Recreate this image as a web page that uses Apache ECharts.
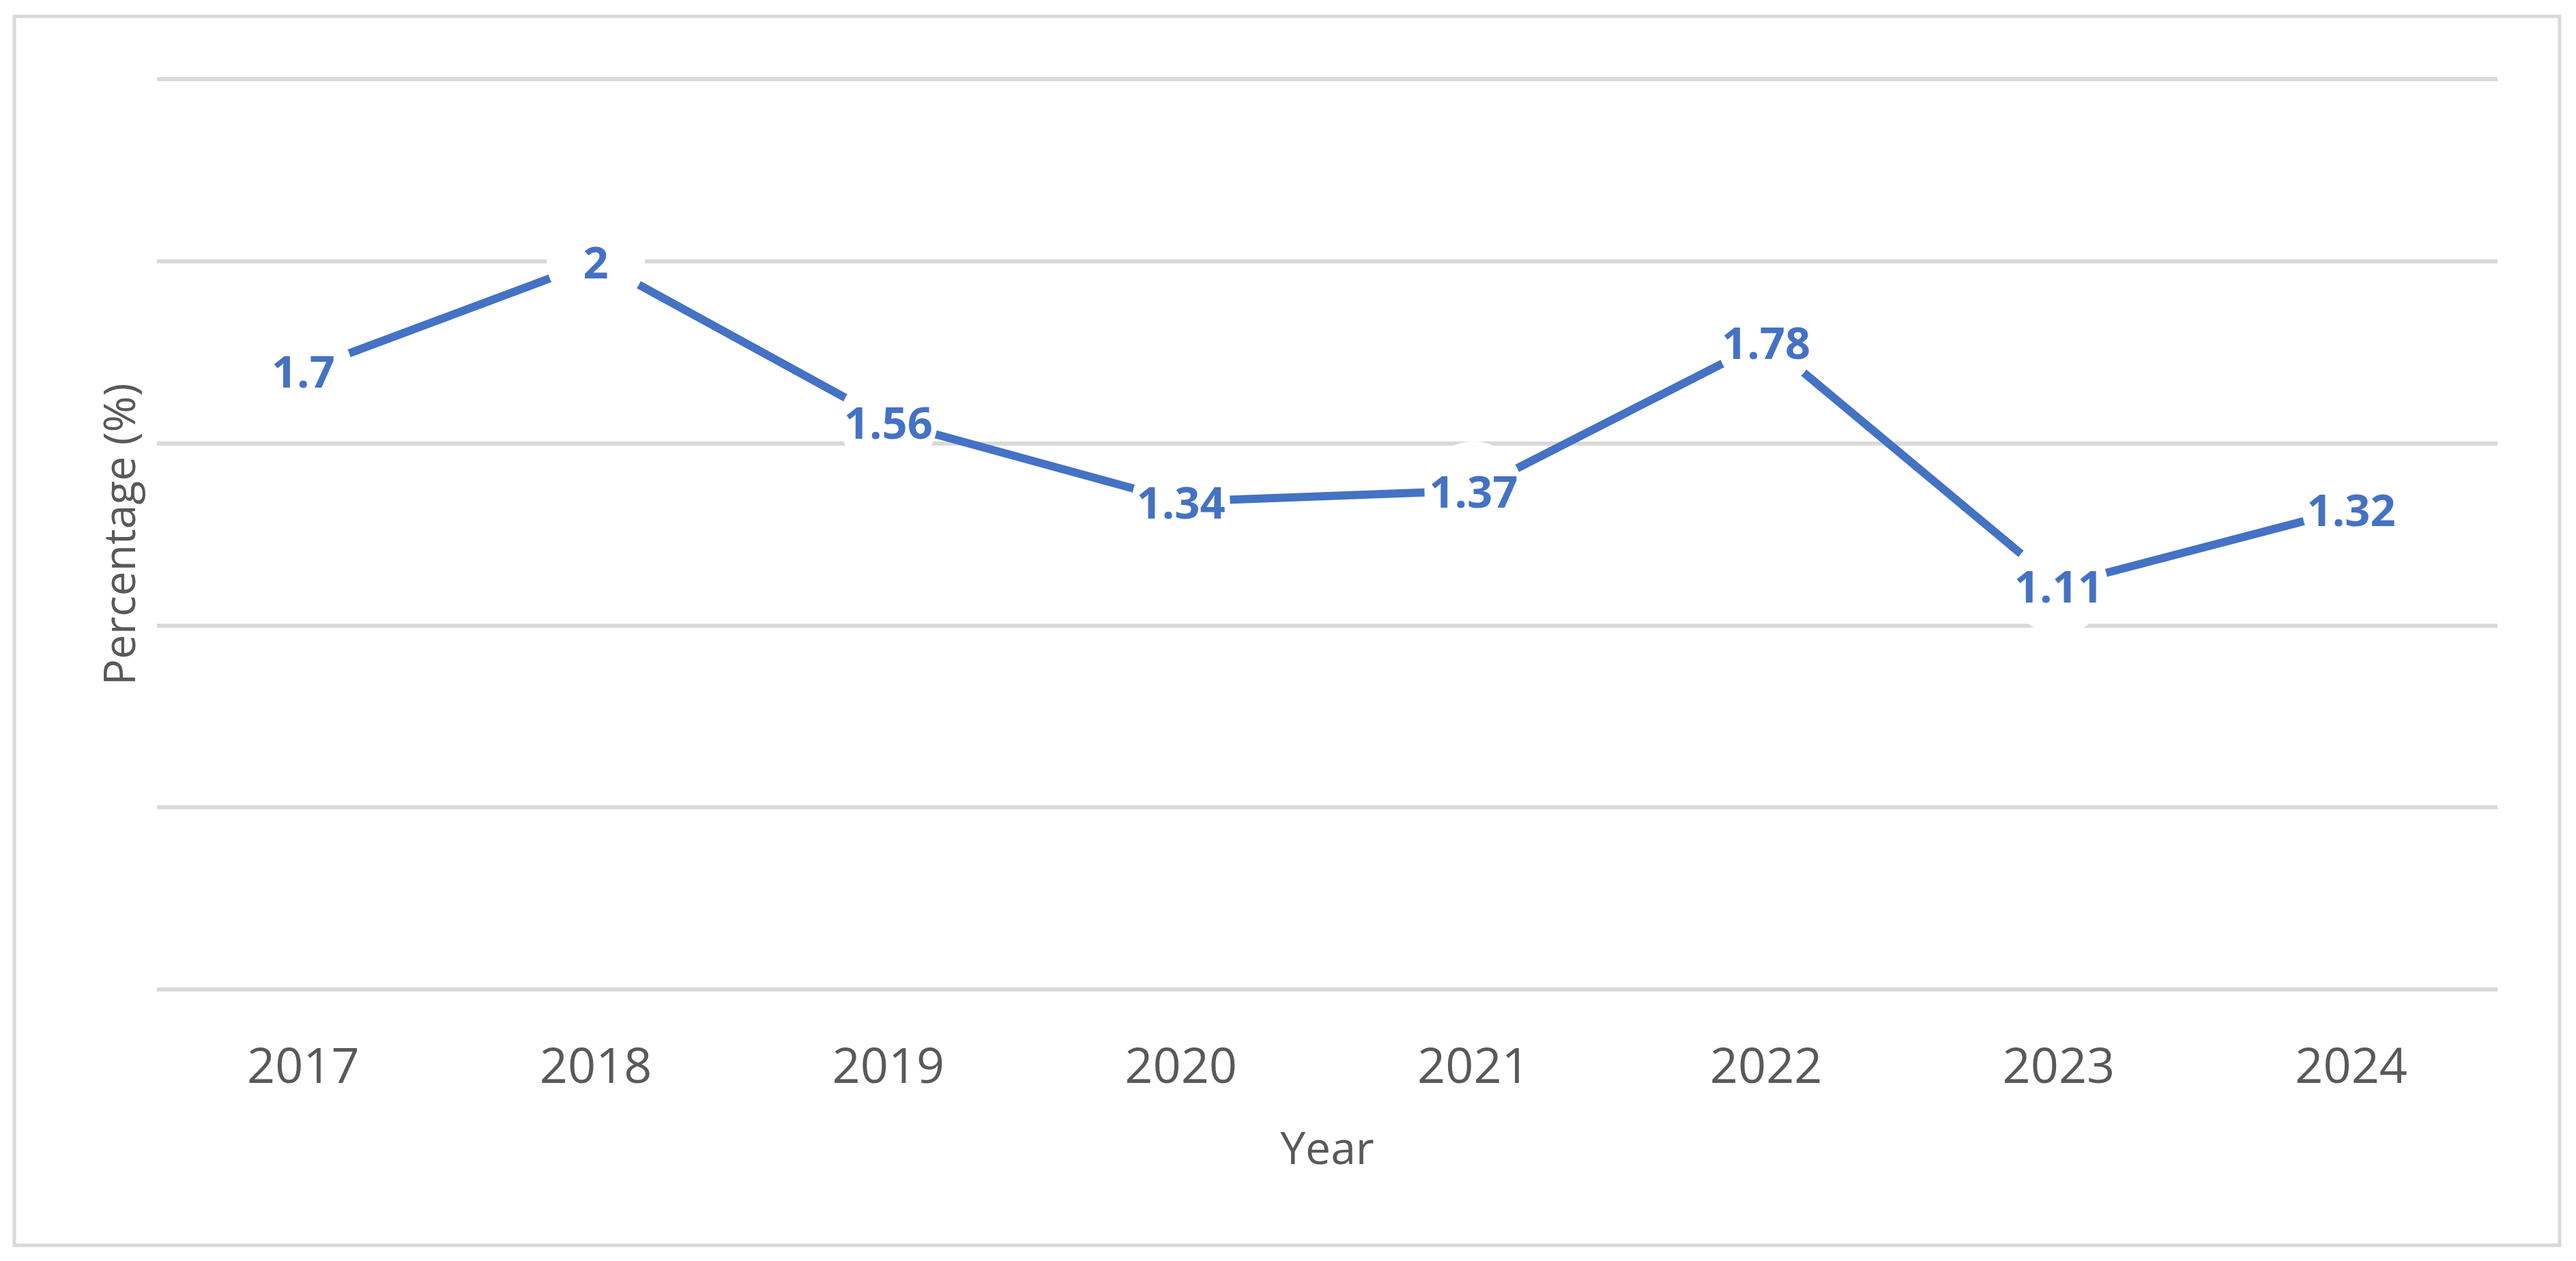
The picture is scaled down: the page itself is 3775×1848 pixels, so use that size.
<!DOCTYPE html>
<html>
<head>
<meta charset="utf-8">
<script src="https://cdn.jsdelivr.net/npm/echarts@6/dist/echarts.min.js"></script>
<style>
html,body{margin:0;padding:0;background:#fff;}
#chart{width:3775px;height:1848px;}
</style>
</head>
<body>
<div id="chart"></div>
<script>
const years = ['2017','2018','2019','2020','2021','2022','2023','2024'];
const percentages = [1.7, 2, 1.56, 1.34, 1.37, 1.78, 1.11, 1.32];
const xTitle = 'Year';
const yTitle = 'Percentage (%)';

const chart = echarts.init(document.getElementById('chart'), null, {renderer:'canvas'});
const FONT = 'Open Sans';
chart.setOption({
  backgroundColor: '#ffffff',
  animation: false,
  graphic: [{
    type: 'rect',
    shape: {x: 21, y: 24, width: 3730, height: 1801},
    style: {fill: 'none', stroke: '#d9d9d9', lineWidth: 5},
    silent: true,
    z: -10
  }],
  grid: {left: 230, right: 115, top: 116, bottom: 398},
  xAxis: {
    type: 'category',
    data: years,
    boundaryGap: true,
    axisLine: {show: false},
    axisTick: {show: false},
    axisLabel: {color: '#595959', fontFamily: FONT, fontSize: 72, margin: 80},
    name: xTitle,
    nameLocation: 'middle',
    nameGap: 204,
    nameTextStyle: {color: '#595959', fontFamily: FONT, fontSize: 66}
  },
  yAxis: {
    type: 'value',
    min: 0, max: 2.5, interval: 0.5,
    axisLabel: {show: false},
    axisLine: {show: false},
    axisTick: {show: false},
    splitLine: {show: true, lineStyle: {color: '#d9d9d9', width: 6}},
    name: yTitle,
    nameLocation: 'middle',
    nameRotate: 90,
    nameGap: 18,
    nameTextStyle: {color: '#595959', fontFamily: FONT, fontSize: 64}
  },
  series: [{
    type: 'line',
    data: percentages,
    symbol: 'circle',
    symbolSize: 144,
    showSymbol: true,
    itemStyle: {color: '#ffffff', borderWidth: 0},
    lineStyle: {color: '#4472c4', width: 12},
    label: {
      show: true,
      position: 'inside',
      offset: [0, 7],
      color: '#4472c4',
      fontFamily: FONT,
      fontWeight: 'bold',
      fontSize: 65
    },
    emphasis: {disabled: true}
  }]
});
</script>
</body>
</html>
